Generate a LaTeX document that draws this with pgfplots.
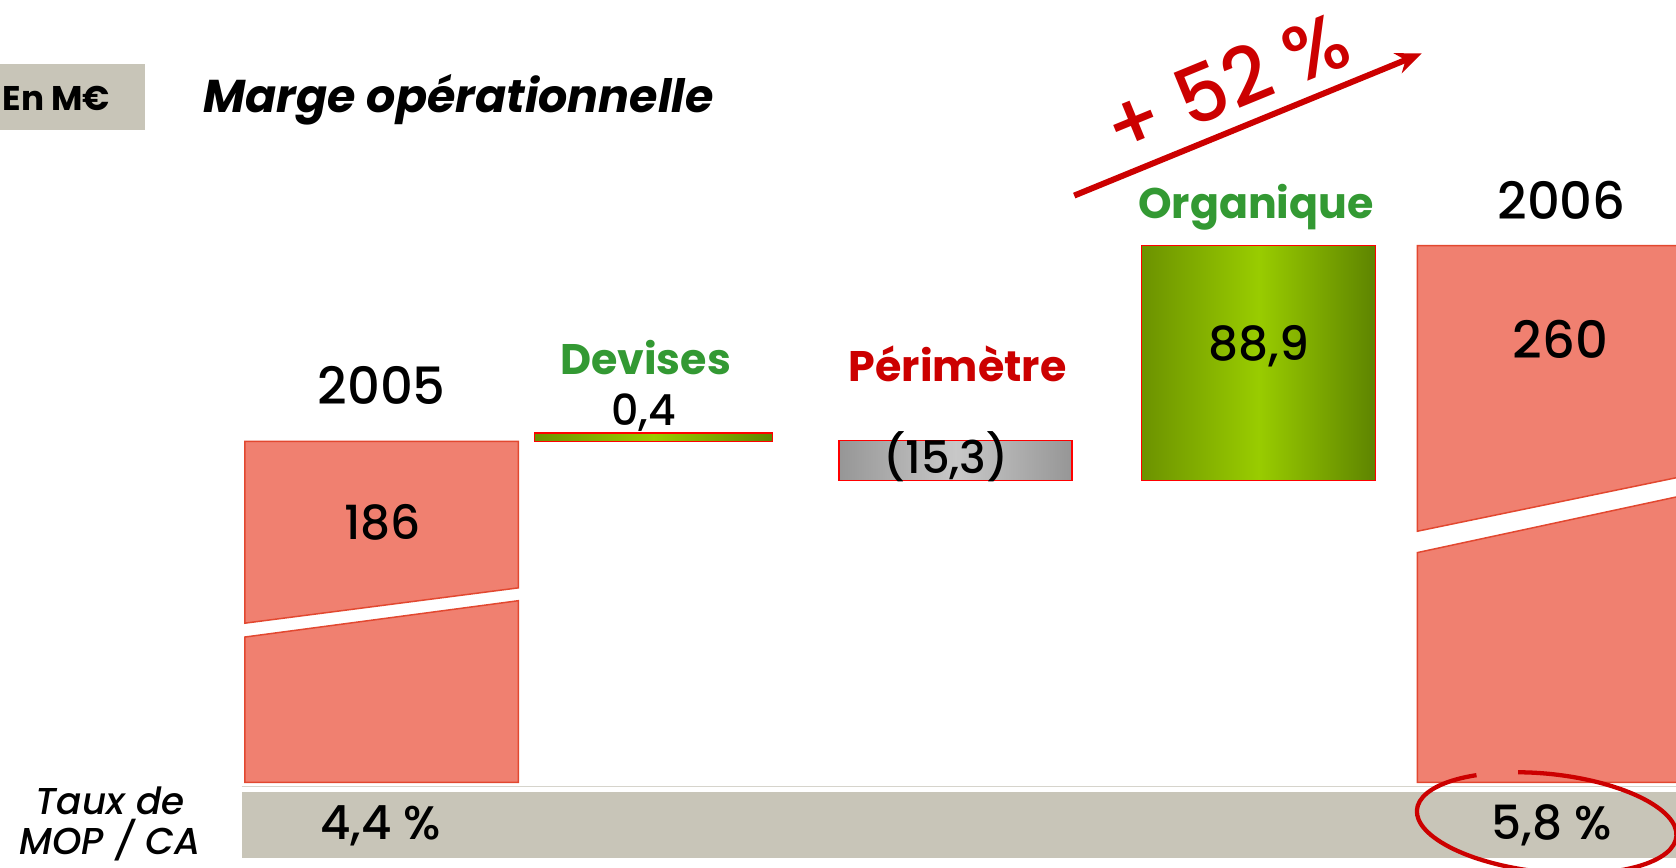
\documentclass[border=0pt]{standalone}
\usepackage{pgfplots}
\pgfplotsset{compat=1.18}
\usetikzlibrary{arrows.meta}
\usepackage{fontspec}
\setmainfont{Poppins}
\IfFontExistsTF{Poppins Medium}
  {\newfontfamily\numfont{Poppins Medium}}
  {\newfontfamily\numfont{Poppins}[FakeBold=2]}
\definecolor{barred}{RGB}{240,128,112}
\definecolor{bardraw}{RGB}{226,72,48}
\definecolor{band}{RGB}{200,197,184}
\definecolor{linegray}{RGB}{214,212,204}
\definecolor{gdarkL}{RGB}{108,146,0}
\definecolor{gdarkR}{RGB}{94,132,0}
\definecolor{glight}{RGB}{153,204,0}
\definecolor{grayE}{RGB}{150,150,150}
\definecolor{grayM}{RGB}{200,200,200}
\definecolor{txtgreen}{RGB}{51,153,51}
\definecolor{txtred}{RGB}{204,0,0}
\begin{document}
\begin{tikzpicture}
\begin{axis}[at={(0,0)}, anchor=south west, scale only axis,
  width=784pt, height=406pt,
  xmin=0, xmax=1568, ymin=24.79, ymax=352.87, hide axis]
% 2005 (186), broken bar
\addplot[fill=barred, draw=bardraw, line width=0.7pt] coordinates {(229,186) (485,186) (485,130.65) (229,117.3)} --cycle;
\addplot[fill=barred, draw=bardraw, line width=0.7pt] coordinates {(229,57.1) (485,57.1) (485,125.8) (229,112.06)} --cycle;
% Devises (+0.4)
\addplot[draw=red, line width=0.6pt, left color=gdarkL, right color=gdarkR, middle color=glight] coordinates {(500,186) (723,186) (723,189.2) (500,189.2)} --cycle;
% Perimetre (-15.3)
\addplot[draw=red, line width=0.6pt, left color=grayE, right color=grayE, middle color=grayM] coordinates {(785,171.1) (1003,171.1) (1003,186.4) (785,186.4)} --cycle;
% Organique (+88.9)
\addplot[draw=red, line width=0.6pt, left color=gdarkL, right color=gdarkR, middle color=glight] coordinates {(1068,171.1) (1287,171.1) (1287,260) (1068,260)} --cycle;
% 2006 (260), broken bar
\addplot[fill=barred, draw=none] coordinates {(1326,260) (1568,260) (1568,172.26) (1326,152.06)} --cycle;
\addplot[draw=bardraw, line width=0.7pt] coordinates {(1568,260) (1326,260) (1326,152.06) (1568,172.26)};
\addplot[fill=barred, draw=none] coordinates {(1326,57.1) (1568,57.1) (1568,164.99) (1326,143.98)} --cycle;
\addplot[draw=bardraw, line width=0.7pt] coordinates {(1568,57.1) (1326,57.1) (1326,143.98) (1568,164.99)};
\end{axis}
\begin{scope}[x=0.5pt, y=-0.5pt, yshift=406pt]
\fill[band] (0,60) rectangle (136,122);
\node[anchor=base west, inner sep=0] at (2,103) {\fontsize{16}{18}\selectfont\bfseries En M€};
\node[anchor=base west, inner sep=0] at (190,105) {\fontsize{21.5}{26}\selectfont\bfseries\itshape Marge opérationnelle};
\draw[linegray, line width=0.75pt] (226,736) -- (1568,736);
\fill[band] (226,741) rectangle (1568,803);
\node[anchor=base, inner sep=0] at (103,762) {\fontsize{17.5}{20}\selectfont\numfont\itshape Taux de};
\node[anchor=base, inner sep=0] at (103,799) {\fontsize{17.5}{20}\selectfont\numfont\itshape MOP / CA};
\node[anchor=base, inner sep=0] at (356,785) {\fontsize{22}{26}\selectfont\numfont 4,4 \%};
\node[anchor=base, inner sep=0] at (1452,785) {\fontsize{22}{26}\selectfont\numfont 5,8 \%};
\node[anchor=base, inner sep=0] at (357,378) {\fontsize{24}{28}\selectfont\numfont 2005};
\node[anchor=base, inner sep=0] at (358,505) {\fontsize{22}{26}\selectfont\numfont 186};
\node[anchor=base, inner sep=0, txtgreen] at (604,350) {\fontsize{20}{24}\selectfont\bfseries Devises};
\node[anchor=base, inner sep=0] at (602,398) {\fontsize{20}{24}\selectfont\numfont 0,4};
\node[anchor=base, inner sep=0, txtred] at (896,357) {\fontsize{20}{24}\selectfont\bfseries Périmètre};
\node[anchor=base, inner sep=0] at (885,443) {\fontsize{21}{24}\selectfont\numfont (15,3)};
\node[anchor=base, inner sep=0, txtgreen] at (1175,204) {\fontsize{20}{24}\selectfont\bfseries Organique};
\node[anchor=base, inner sep=0] at (1178,337) {\fontsize{22}{26}\selectfont\numfont 88,9};
\node[anchor=base, inner sep=0] at (1461,205) {\fontsize{24}{28}\selectfont\numfont 2006};
\node[anchor=base, inner sep=0] at (1460,335) {\fontsize{24}{28}\selectfont\numfont 260};
\draw[txtred, line width=2.8pt, -{Stealth[length=12pt,width=10pt]}] (1005,183) -- (1330,50);
\node[rotate=22.3, txtred, inner sep=0] at (1147,78) {\fontsize{37}{40}\selectfont\numfont + 52 \%};
\begin{scope}[shift={(1447,770)}, rotate=-6]
\draw[txtred, line width=2pt] (235:122 and 46) arc[start angle=235, end angle=-105, x radius=122, y radius=46];
\end{scope}
\end{scope}
\pgfresetboundingbox
\path (0,0) rectangle (784pt,406pt);
\end{tikzpicture}
\end{document}
